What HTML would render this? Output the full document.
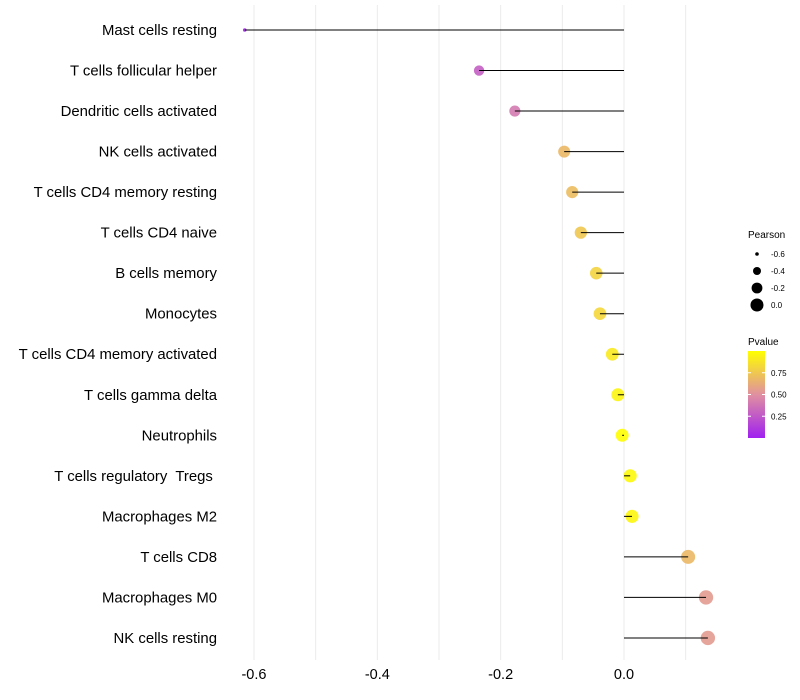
<!DOCTYPE html>
<html><head><meta charset="utf-8"><style>
body{margin:0;background:#fff;}
svg{display:block;font-family:"Liberation Sans",sans-serif;}
</style></head><body>
<svg id="chart" width="800" height="700"></svg>
<script>
const categories=["Mast cells resting","T cells follicular helper","Dendritic cells activated","NK cells activated","T cells CD4 memory resting","T cells CD4 naive","B cells memory","Monocytes","T cells CD4 memory activated","T cells gamma delta","Neutrophils","T cells regulatory  Tregs ","Macrophages M2","T cells CD8","Macrophages M0","NK cells resting"];
const pearson=[-0.615,-0.235,-0.177,-0.097,-0.084,-0.070,-0.045,-0.039,-0.019,-0.010,-0.003,0.010,0.013,0.104,0.133,0.136];
const pvalue=[0.03,0.28,0.4,0.68,0.7,0.75,0.8,0.82,0.9,0.95,0.99,0.97,0.96,0.68,0.55,0.55];
const xTicks=[-0.6,-0.4,-0.2,0.0];
const xTickLabels=["-0.6","-0.4","-0.2","0.0"];
const sizeLegend=[-0.6,-0.4,-0.2,0.0];
const pTicks=[0.25,0.5,0.75];

const NS="http://www.w3.org/2000/svg";
const svg=document.getElementById('chart');
function mk(t,a,p){const e=document.createElementNS(NS,t);for(const k in a)e.setAttribute(k,a[k]);(p||svg).appendChild(e);return e;}
const x=v=>624+v*616.7;
const y=i=>30+i*40.53;
const r=v=>Math.max(1.8,7.2*Math.sqrt(Math.max(0,(v+0.64)/0.78)));
function lerp(a,b,t){return a.map((c,i)=>Math.round(c+(b[i]-c)*t));}
function col(p){const s0=[160,32,240],s1=[224,144,160],s2=[255,255,0];
 const c=p<0.5?lerp(s0,s1,p/0.5):lerp(s1,s2,(p-0.5)/0.5);return `rgb(${c})`;}

const grid=mk('g',{});
for(let v=-0.6;v<=0.1001;v+=0.1){mk('line',{x1:x(v),x2:x(v),y1:5,y2:660,stroke:'#ebebeb','stroke-width':1},grid);}
xTicks.forEach((v,i)=>{const t=mk('text',{x:x(v),y:679,'text-anchor':'middle','font-size':14.5,fill:'#000'});
t.textContent=xTickLabels[i];});
categories.forEach((c,i)=>{
 const t=mk('text',{x:217,y:y(i)+5,'text-anchor':'end','font-size':14.9,fill:'#000',style:'white-space:pre'});
 t.textContent=c;
 const ci=mk('circle',{cx:x(pearson[i]),cy:y(i),r:r(pearson[i]),fill:col(pvalue[i]),'fill-opacity':0.9});
 
 const l=mk('line',{x1:x(0),x2:x(pearson[i]),y1:y(i),y2:y(i),stroke:'#000','stroke-width':1});
 
});
const lg=mk('g',{});
mk('text',{x:748,y:238,'font-size':10,fill:'#000'},lg).textContent='Pearson';
sizeLegend.forEach((v,i)=>{const cy=254+i*17;mk('circle',{cx:757,cy:cy,r:r(v),fill:'#000'},lg);
 mk('text',{x:771,y:cy+3,'font-size':8,fill:'#000'},lg).textContent=v.toFixed(1);});
const cg=mk('g',{});
mk('text',{x:748,y:345,'font-size':10,fill:'#000'},cg).textContent='Pvalue';
const defs=mk('defs',{});const gr=mk('linearGradient',{id:'pg',x1:0,y1:1,x2:0,y2:0},defs);
[[0,'rgb(160,32,240)'],[0.5,'rgb(224,144,160)'],[1,'rgb(255,255,0)']].forEach(s=>mk('stop',{offset:s[0],'stop-color':s[1]},gr));
const py=p=>438-p*87;
mk('rect',{x:748,y:351,width:17,height:87,fill:'url(#pg)'},cg);
pTicks.forEach(p=>{mk('line',{x1:748,x2:751,y1:py(p),y2:py(p),stroke:'#fff'},cg);mk('line',{x1:762,x2:765,y1:py(p),y2:py(p),stroke:'#fff'},cg);
 mk('text',{x:771,y:py(p)+3,'font-size':8,fill:'#000'},cg).textContent=p.toFixed(2);});
</script>
</body></html>
